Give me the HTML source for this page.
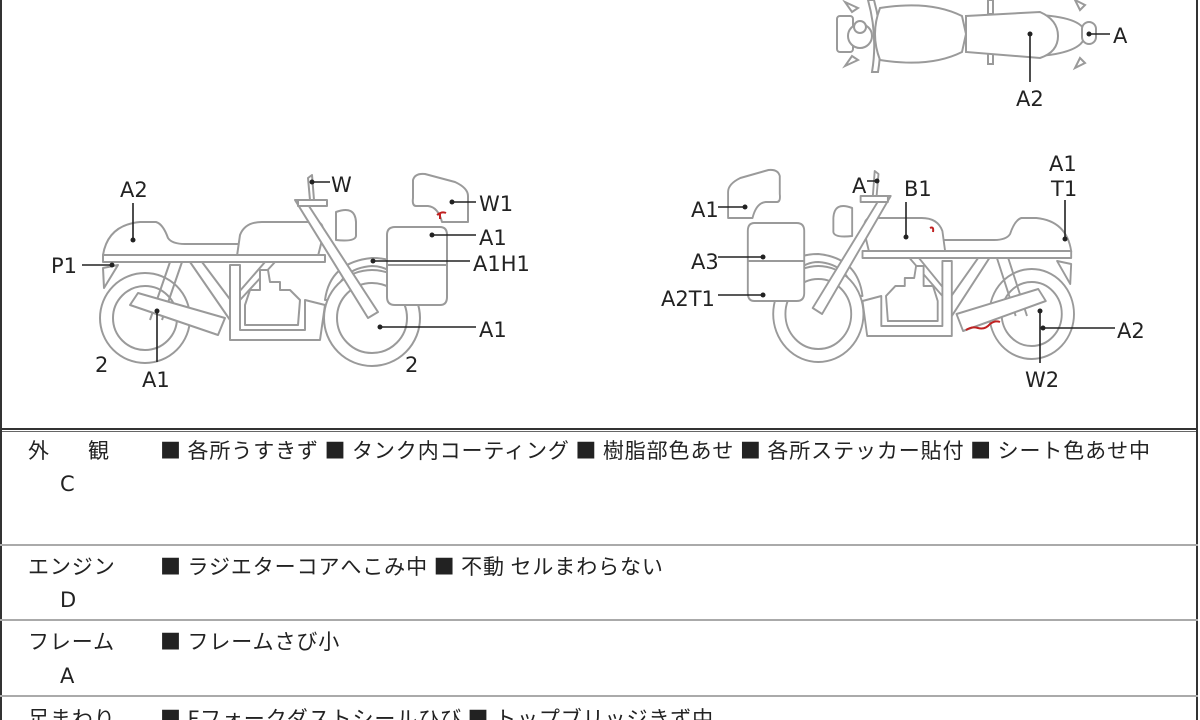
<!DOCTYPE html>
<html><head><meta charset="utf-8"><style>
body{margin:0;background:#fff;}
#w{position:relative;width:1200px;height:720px;overflow:hidden;background:#fff;font-family:"Liberation Sans","Noto Sans CJK JP",sans-serif;}
.t{position:absolute;font-size:21px;color:#222;white-space:pre;line-height:24px;letter-spacing:0.9px;font-family:"Noto Sans CJK JP","Liberation Sans",sans-serif;}
.hl{position:absolute;left:0;width:1198px;height:2px;background:#aaa;}
</style></head><body><div id="w">
<svg width="1200" height="430" style="position:absolute;left:0;top:0">
<defs>
<g id="bike" fill="#fff" stroke="#9a9a9a" stroke-width="2" stroke-linejoin="round">
 <circle cx="145" cy="318" r="45"/><circle cx="145" cy="318" r="32"/>
 <path d="M325,300 Q330,262 372,258 Q395,258 405,270 L395,275 Q385,266 372,266 Q340,268 333,300 Z"/>
 <circle cx="372" cy="318" r="48"/><circle cx="372" cy="318" r="35"/>
 <path d="M103,268 L104,288 L118,265 Z"/>
 <path d="M170,262 L150,320 M182,262 L162,320 M190,262 L230,320 M202,262 L238,310 M265,262 L232,300 M275,262 L240,300"/>
 <path d="M103,255 Q108,225 140,222 L156,222 Q163,224 168,238 Q172,244 185,244 L240,244 L240,256 L103,256 Z"/>
 <path d="M237,256 L240,235 Q245,222 262,222 L316,222 Q326,222 322,240 L318,256 Z"/>
 <path d="M103,255 L325,255 L325,262 L103,262 Z"/>
 <path d="M230,265 L230,340 L320,340 L325,305 L305,300 L305,330 L240,330 L240,265 Z"/>
 <path d="M245,305 L245,325 L298,325 L300,300 L290,290 L280,290 L280,282 L270,282 L268,270 L260,270 L260,290 L250,290 Z"/>
 <path d="M130,305 L138,293 L225,318 L218,335 Z"/>
 <path d="M295,200 L305,200 L378,312 L368,318 Z"/>
 <path d="M298,200 L327,200 L327,206 L298,206 Z"/>
 <path d="M336,212 Q355,205 356,222 L356,236 Q355,242 336,240 Z"/>
 <path d="M308,178 L312,175 L314,200 L310,200 Z"/>
 <path d="M387,235 Q387,227 395,227 L440,227 Q447,227 447,235 L447,297 Q447,305 440,305 L395,305 Q387,305 387,297 Z"/>
 <path d="M387,265 L447,265"/>
 <path d="M413,180 Q415,173 425,174 L455,182 Q468,188 468,196 L468,222 L442,222 Q438,207 428,206 L416,206 Q412,206 413,198 Z"/>
</g>
</defs>
<rect x="1" y="-5" width="1196" height="434" fill="none" stroke="#333" stroke-width="2"/>
<use href="#bike"/>
<use href="#bike" transform="translate(1168,-4) scale(-0.94,1)"/>
<g fill="#fff" stroke="#9a9a9a" stroke-width="2">
 <path d="M845,2 L858,8 L852,12 Z M845,66 L858,60 L852,56 Z M1075,0 L1085,5 L1080,10 Z M1075,68 L1085,63 L1080,58 Z"/>
 <rect x="837" y="16" width="16" height="36" rx="3"/>
 <circle cx="860" cy="36" r="12"/><circle cx="860" cy="27" r="6"/>
 <path d="M868,0 Q878,36 872,72 L878,72 Q884,36 874,0 Z"/>
 <rect x="988" y="0" width="5" height="14"/><rect x="988" y="50" width="5" height="14"/>
 <path d="M1040,15 Q1085,18 1085,34 Q1085,52 1040,56 Z"/>
 <rect x="1082" y="22" width="14" height="22" rx="7"/>
 <path d="M880,8 Q930,0 962,16 L966,34 L962,52 Q930,68 880,60 Q870,34 880,8 Z"/>
 <path d="M966,16 L1040,12 Q1058,20 1058,36 Q1058,52 1040,58 L966,52 Z"/>
</g>
<g stroke="#222" stroke-width="1.6" fill="#222">
 <path d="M133,203 L133,240 M82,265 L112,265 M312,182 L330,182 M452,202 L476,202 M432,235 L476,235 M373,261 L470,261 M380,327 L476,327 M157,311 L157,362"/>
 <path d="M1030,36 L1030,82 M1089,34 L1110,34 M718,207 L745,207 M867,181 L877,181 M906,202 L906,237 M1065,200 L1065,239 M718,257 L763,257 M718,295 L763,295 M1043,328 L1115,328 M1040,311 L1040,363"/>
 <g stroke="none">
 <circle cx="133" cy="240" r="2.5"/><circle cx="112" cy="265" r="2.5"/><circle cx="312" cy="182" r="2.5"/><circle cx="452" cy="202" r="2.5"/><circle cx="432" cy="235" r="2.5"/><circle cx="373" cy="261" r="2.5"/><circle cx="380" cy="327" r="2.5"/><circle cx="157" cy="311" r="2.5"/>
 <circle cx="1030" cy="34" r="2.5"/><circle cx="1089" cy="34" r="2.5"/><circle cx="745" cy="207" r="2.5"/><circle cx="877" cy="181" r="2.5"/><circle cx="906" cy="237" r="2.5"/><circle cx="1065" cy="239" r="2.5"/><circle cx="763" cy="257" r="2.5"/><circle cx="763" cy="295" r="2.5"/><circle cx="1043" cy="328" r="2.5"/><circle cx="1040" cy="311" r="2.5"/>
 </g>
</g>
<g stroke="#c02020" stroke-width="2" fill="none">
 <path d="M437,215 Q442,211 446,213 M440,214 L440,219"/>
 <path d="M930,228 Q934,226 933,232"/>
 <path d="M966,330 Q972,326 978,328 Q985,330 990,324 Q995,320 1000,322"/>
</g>
<g font-family="DejaVu Sans, Liberation Sans, sans-serif" font-size="21" fill="#222">
 <text x="120" y="197">A2</text><text x="51" y="273">P1</text><text x="331" y="192">W</text>
 <text x="479" y="211">W1</text><text x="479" y="245">A1</text><text x="473" y="271">A1H1</text>
 <text x="479" y="337">A1</text><text x="142" y="387">A1</text><text x="95" y="372">2</text><text x="405" y="372">2</text>
 <text x="1016" y="106">A2</text><text x="1113" y="43">A</text>
 <text x="691" y="217">A1</text><text x="852" y="193">A</text><text x="904" y="196">B1</text>
 <text x="1049" y="171">A1</text><text x="1051" y="196">T1</text>
 <text x="691" y="269">A3</text><text x="661" y="306">A2T1</text>
 <text x="1117" y="338">A2</text><text x="1025" y="387">W2</text>
</g>
</svg>
<div style="position:absolute;left:0;top:428px;width:1198px;height:4px;border-top:2px solid #333;border-bottom:1px solid #666;box-sizing:border-box"></div>
<div style="position:absolute;left:0;top:0;width:2px;height:720px;background:#333"></div>
<div style="position:absolute;left:1196px;top:0;width:2px;height:720px;background:#333"></div>
<div class="hl" style="top:544px"></div>
<div class="hl" style="top:619px"></div>
<div class="hl" style="top:695px"></div>
<div class="t" style="left:28px;top:438px">外</div><div class="t" style="left:88px;top:438px">観</div>
<div class="t" style="left:60px;top:472px;font-family:'DejaVu Sans',sans-serif">C</div>
<div class="t" style="left:160px;top:438px">■ 各所うすきず ■ タンク内コーティング ■ 樹脂部色あせ ■ 各所ステッカー貼付 ■ シート色あせ中</div>
<div class="t" style="left:28px;top:554px">エンジン</div>
<div class="t" style="left:60px;top:588px;font-family:'DejaVu Sans',sans-serif">D</div>
<div class="t" style="left:160px;top:554px">■ ラジエターコアへこみ中 ■ 不動 セルまわらない</div>
<div class="t" style="left:28px;top:629px">フレーム</div>
<div class="t" style="left:60px;top:664px;font-family:'DejaVu Sans',sans-serif">A</div>
<div class="t" style="left:160px;top:629px">■ フレームさび小</div>
<div class="t" style="left:28px;top:706px">足まわり</div>
<div class="t" style="left:160px;top:706px">■ Fフォークダストシールひび ■ トップブリッジきず中</div>
</div></body></html>
